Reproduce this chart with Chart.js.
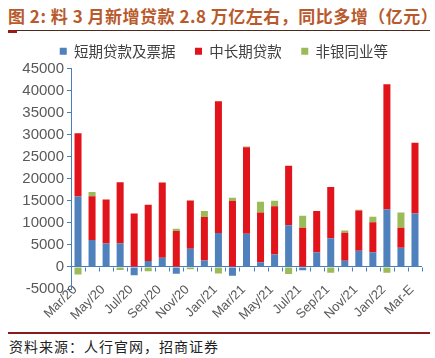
<!DOCTYPE html>
<html>
<head>
<meta charset="utf-8">
<script src="https://cdn.jsdelivr.net/npm/chart.js@4.4.1/dist/chart.umd.min.js"></script>
<style>
    html, body { margin: 0; padding: 0; background: #fff; }
    #page { position: relative; width: 435px; height: 358px; overflow: hidden; font-family: "Noto Sans CJK SC", sans-serif; }
    #titulo { position: absolute; left: 8px; top: 3px; font-size: 17px; font-weight: bold; color: #b85a2c; letter-spacing: 0.5px; white-space: nowrap; }
    #lineaTitulo { position: absolute; left: 8px; top: 30px; width: 422px; height: 1px; background: #4a2a1a; }
    #marcaTitulo { position: absolute; left: 8px; top: 30px; width: 9px; height: 3px; background: #9b1b1b; }
    #grafica { position: absolute; left: 0; top: 39px; width: 435px; height: 293px; }
    #lineaFuente { position: absolute; left: 8px; top: 332px; width: 422px; height: 2px; background: #8b1a1a; }
    #fuente { position: absolute; left: 9px; top: 336px; font-size: 14px; color: #222; letter-spacing: 1px; white-space: nowrap; }
</style>
</head>
<body>
<div id="page">
    <div id="titulo">图 2: 料 3 月新增贷款 2.8 万亿左右，同比多增（亿元）</div>
    <div id="lineaTitulo"></div>
    <div id="marcaTitulo"></div>
    <div id="grafica"><canvas id="chartPrestamos" width="435" height="293"></canvas></div>
    <div id="lineaFuente"></div>
    <div id="fuente">资料来源：人行官网，招商证券</div>
</div>
<script>
// Datos (亿元)
const meses = ['Mar/20', 'Apr/20', 'May/20', 'Jun/20', 'Jul/20', 'Aug/20', 'Sep/20', 'Oct/20', 'Nov/20', 'Dec/20',
    'Jan/21', 'Feb/21', 'Mar/21', 'Apr/21', 'May/21', 'Jun/21', 'Jul/21', 'Aug/21', 'Sep/21', 'Oct/21',
    'Nov/21', 'Dec/21', 'Jan/22', 'Feb/22', 'Mar-E'];
const cortoPlazo = [16000, 6100, 5300, 5400, -1900, 1330, 2070, -1550, 4140, 1480,
    7700, -2000, 7550, 1040, 2800, 9470, -740, 3260, 6510, 1400,
    3700, 3330, 13020, 4370, 12140];
const medianoLargo = [14300, 9950, 10000, 13800, 12140, 12800, 17100, 8140, 10900, 9850,
    29900, 15000, 19600, 11300, 10950, 13470, 8880, 9400, 11620, 6370,
    9100, 6800, 28400, 4500, 16000];
const noBancario = [-1700, 960, 0, -700, 0, -1000, 0, 500, -500, 1330,
    -1500, 670, 150, 2440, 1260, -1600, 2740, 0, -1330, 500,
    150, 1260, -1330, 3480, 0];
const series = ['短期贷款及票据', '中长期贷款', '非银同业等'];

const colorEje = '#4a7ebb';

// marcas del eje de categorías sobre la línea de cero
const marcasCero = {
    id: 'marcasCero',
    afterDatasetsDraw(chart) {
        const x = chart.scales.x;
        const y = chart.scales.y;
        const y0 = Math.round(y.getPixelForValue(0)) + 0.5;
        const ctx = chart.ctx;
        ctx.save();
        ctx.strokeStyle = colorEje;
        ctx.lineWidth = 1;
        ctx.beginPath();
        for (let i = 0; i <= meses.length; i++) {
            let px;
            if (i === 0) px = x.left;
            else if (i === meses.length) px = x.right;
            else px = (x.getPixelForValue(i - 1) + x.getPixelForValue(i)) / 2;
            px = Math.round(px) + 0.5;
            ctx.moveTo(px, y0);
            ctx.lineTo(px, y0 + 4);
        }
        ctx.stroke();
        ctx.restore();
    }
};

// separación entre elementos de la leyenda (como en el original)
function etiquetasLeyenda(chart) {
    const items = Chart.defaults.plugins.legend.labels.generateLabels(chart);
    items.forEach((it, i) => {
        it.text = it.text + (i < items.length - 1 ? '\u2003' : '\u2003\u2003');
    });
    return items;
}

const ctx = document.getElementById('chartPrestamos').getContext('2d');
new Chart(ctx, {
    type: 'bar',
    data: {
        labels: meses,
        datasets: [
            { label: series[0], data: cortoPlazo, backgroundColor: '#4f81bd' },
            { label: series[1], data: medianoLargo, backgroundColor: '#e0141a' },
            { label: series[2], data: noBancario, backgroundColor: '#9bbb59' }
        ]
    },
    options: {
        responsive: false,
        animation: false,
        devicePixelRatio: 1,
        datasets: { bar: { barPercentage: 0.5, categoryPercentage: 1.0 } },
        layout: { padding: { left: 0, right: 13, top: 0, bottom: 0 } },
        plugins: {
            legend: {
                position: 'top',
                align: 'end',
                labels: {
                    boxWidth: 7, boxHeight: 7, padding: 5, color: '#404040',
                    font: { size: 14.5, family: '"Noto Sans CJK SC", sans-serif' },
                    generateLabels: etiquetasLeyenda
                }
            },
            tooltip: { enabled: false }
        },
        scales: {
            x: {
                stacked: true,
                offset: true,
                afterFit: (s) => { s.height = 43; },
                grid: { display: false },
                border: { display: false },
                ticks: {
                    autoSkip: false, minRotation: 45, maxRotation: 45,
                    mirror: true, padding: -4, labelOffset: 8,
                    color: '#595959', font: { size: 13, family: '"Liberation Sans", Arial, sans-serif' },
                    callback: (v, i) => (i % 2 === 0 ? meses[i] : '')
                }
            },
            y: {
                stacked: true,
                min: -5000,
                max: 45000,
                afterFit: (s) => { s.width = 71; },
                border: { display: true, color: colorEje, width: 1 },
                grid: {
                    drawOnChartArea: true,
                    color: (c) => (c.tick && c.tick.value === 0 ? colorEje : 'rgba(0,0,0,0)'),
                    tickColor: colorEje,
                    tickLength: 4
                },
                ticks: {
                    stepSize: 5000, padding: 3,
                    color: '#595959', font: { size: 15, family: '"Liberation Sans", Arial, sans-serif' },
                    callback: (v) => String(v)
                }
            }
        }
    },
    plugins: [marcasCero]
});
</script>
</body>
</html>
